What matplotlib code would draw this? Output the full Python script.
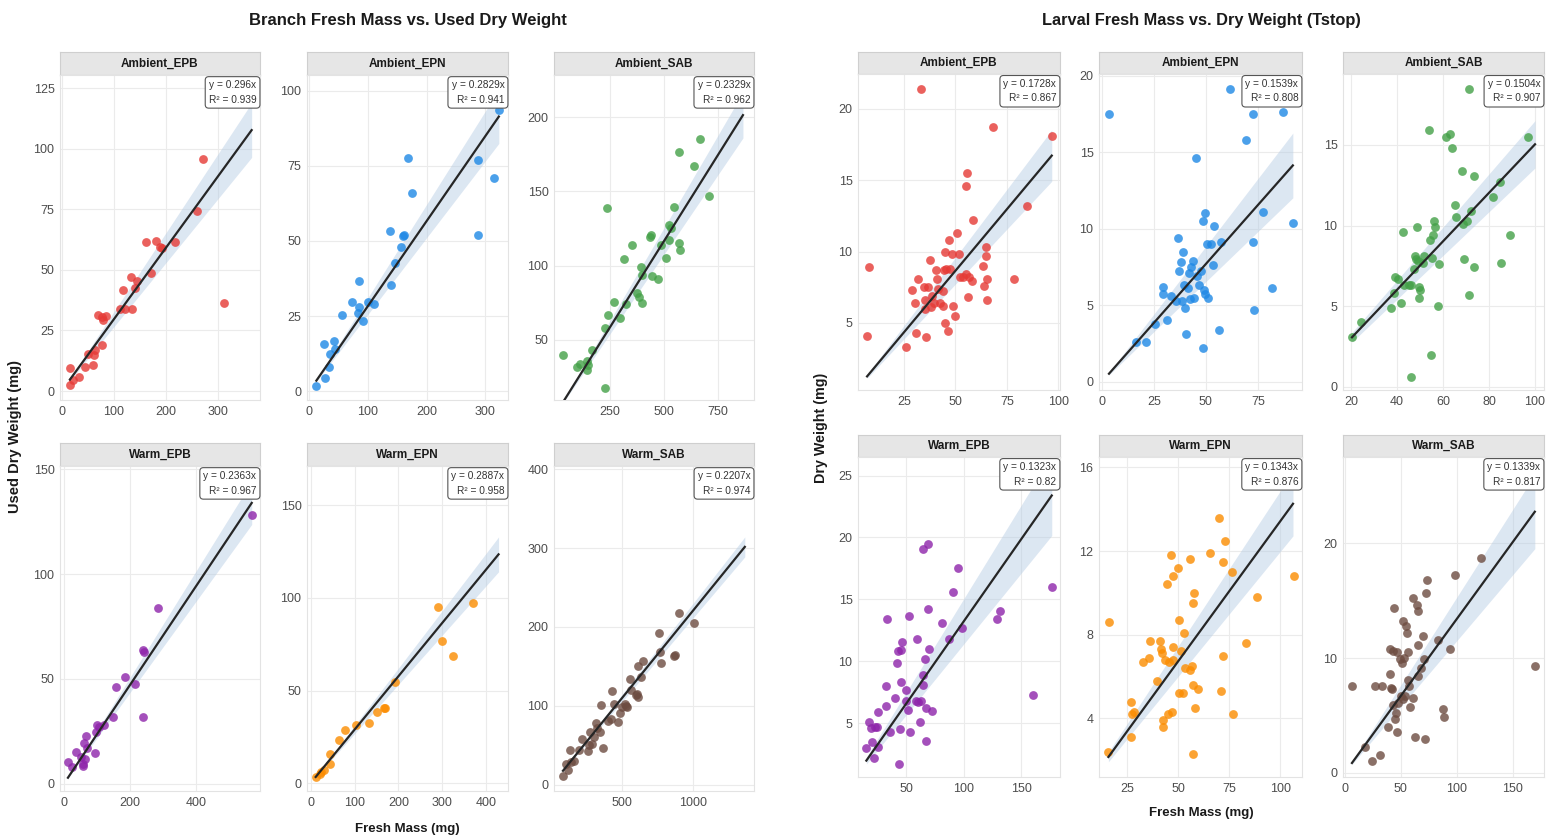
import numpy as np
import matplotlib.pyplot as plt

plt.rcParams['font.family'] = ['Liberation Sans', 'DejaVu Sans']

W, H = 1557, 838

facet_names = ['Ambient_EPB', 'Ambient_EPN', 'Ambient_SAB', 'Warm_EPB', 'Warm_EPN', 'Warm_SAB']
point_colors = ['#e53935', '#1e88e5', '#43a047', '#8e24aa', '#fb8c00', '#6d4c41']

# ---- Branch fresh mass vs used dry weight ----
br_amb_epb_x = [16, 17, 21, 33, 45, 51, 61, 63, 64, 70, 77, 79, 77, 85, 112, 118, 121, 134, 133, 140, 144,
                172, 161, 180, 188, 192, 217, 259, 271, 312]
br_amb_epb_y = [2.5, 9.4, 4.5, 6, 10, 15.5, 10.7, 15, 17, 31.4, 19, 29.3, 30.7, 31, 34, 41.7, 34, 34, 47, 42.4, 45.6,
                48.6, 61.7, 62, 59.6, 59, 61.4, 74.5, 95.8, 36.2]
br_amb_epn_x = [12.5, 28, 25.6, 34, 35, 42, 44, 56, 74, 85, 85, 84, 92, 101, 110, 138, 139, 147, 157, 160, 161,
                169, 176, 287, 288, 315, 323]
br_amb_epn_y = [1.9, 4.5, 15.6, 8.2, 12.3, 16.6, 14.2, 25.3, 29.8, 36.6, 28.1, 25.9, 23.3, 29.8, 28.9, 53.4, 35.3,
                42.8, 47.9, 51.5, 52.1, 77.5, 66, 76.9, 52.1, 70.9, 93.5]
br_amb_sab_x = [35, 101, 115, 145, 145, 150, 168, 230, 230, 242, 238, 270, 299, 315, 327, 352, 377, 384, 397, 393,
                400, 434, 442, 447, 473, 485, 511, 523, 526, 534, 545, 570, 568, 573, 640, 666, 709]
br_amb_sab_y = [40, 32, 34, 36, 30, 33, 43, 17.6, 57.7, 67, 138.8, 75.5, 64.6, 104.3, 74.4, 113.9, 81.9, 78.7, 75,
                99.4, 94, 119.6, 120.4, 93, 91.1, 114, 105, 127.7, 117.3, 125.6, 139.7, 176.4, 115, 110.3, 167,
                185.2, 147]
br_warm_epb_x = [12, 23, 37.5, 50, 56, 58, 61, 64, 68, 71, 94, 96, 101, 106, 122, 149, 157, 184, 215, 240, 243,
                 240, 284, 567]
br_warm_epb_y = [10.4, 8, 15.2, 12.5, 9.6, 8.5, 19.6, 11.6, 22.7, 16.8, 14.7, 24.7, 28.2, 27, 28.2, 31.9, 46.3, 51,
                 47.6, 63.8, 63, 31.9, 83.8, 128]
br_warm_epn_x = [11.4, 20.6, 24, 30.5, 45, 43.4, 65, 78, 104, 133, 150, 168, 170, 192, 290, 299, 324, 370]
br_warm_epn_y = [3.3, 5, 6, 6.9, 10.5, 15.9, 23.5, 28.6, 31.6, 32.5, 38.5, 40.7, 40.7, 54.8, 94.9, 77, 68.9, 97.2]
br_warm_sab_x = [80, 104, 116, 127, 139, 158, 193, 215, 257, 264, 274, 286, 297, 316, 323, 344, 351, 363, 399,
                 422, 429, 441, 470, 481, 500, 517, 528, 535, 552, 564, 594, 604, 611, 611, 634, 646, 757, 769,
                 776, 866, 870, 901, 1005]
br_warm_sab_y = [10.6, 26.7, 18.2, 44.5, 28.8, 30.1, 43.7, 57.3, 42.8, 50, 67, 52.2, 60.7, 77.6, 71.3, 66.2, 100.5,
                 47.1, 81, 82.7, 119.2, 102.2, 78.9, 90.4, 98, 102.2, 99.7, 98.8, 133.6, 120, 113.7, 114.5, 150.6,
                 111.6, 137, 157.4, 192.2, 167.6, 154, 163.7, 164.6, 217.6, 204.9]

branch_x = [br_amb_epb_x, br_amb_epn_x, br_amb_sab_x, br_warm_epb_x, br_warm_epn_x, br_warm_sab_x]
branch_y = [br_amb_epb_y, br_amb_epn_y, br_amb_sab_y, br_warm_epb_y, br_warm_epn_y, br_warm_sab_y]
branch_slopes = [0.296, 0.2829, 0.2329, 0.2363, 0.2887, 0.2207]
branch_r2 = [0.939, 0.941, 0.962, 0.967, 0.958, 0.974]
branch_line_end = [364, 323, 865, 567, 428, 1366]
branch_xlims = [(-3, 380), (-3.4, 338.6), (-7, 916), (-12, 592), (-8.4, 449.5), (16.5, 1431)]
branch_ylims = [(-3.7, 130.5), (-2.9, 105.2), (9.5, 228.5), (-3.5, 151.6), (-4.3, 171.3), (-8, 404)]
branch_xticks = [[0, 100, 200, 300], [0, 100, 200, 300], [250, 500, 750], [0, 200, 400],
                 [0, 100, 200, 300, 400], [500, 1000]]
branch_yticks = [[0, 25, 50, 75, 100, 125], [0, 25, 50, 75, 100], [50, 100, 150, 200], [0, 50, 100, 150],
                 [0, 50, 100, 150], [0, 100, 200, 300, 400]]

# ---- Larval fresh mass vs dry weight ----
lv_amb_epb_x = [7.2, 8.2, 26, 29.2, 30.3, 30.8, 32, 33.3, 34.9, 35.2, 35.2, 36, 36.8, 37.6, 38.1, 38.9, 39.6, 40.4,
                40.9, 41.7, 42.8, 43.8, 44.1, 44.4, 45, 45.7, 45, 46.5, 47, 47.4, 48.2, 48.7, 49.8, 50.6, 51.9,
                52.5, 53.8, 55, 55.5, 55.1, 56.3, 56.8, 57.9, 58.7, 63.6, 63.9, 64.8, 64.8, 65.5, 65.5, 68.4, 78.5,
                84.9, 96.8]
lv_amb_epb_y = [4.1, 8.9, 3.3, 7.3, 6.4, 4.3, 8.1, 21.4, 7.5, 6.6, 6, 4, 7.5, 9.4, 6.1, 6.9, 6.4, 8.7, 8.1, 7.4, 6.4,
                7.2, 6.2, 8.7, 10, 8.8, 5, 4.4, 10.8, 8.8, 9.8, 6.2, 5.5, 11.3, 9.8, 8.2, 8.2, 14.6, 15.5, 8.4, 6.8,
                8.2, 7.9, 12.2, 9, 7.6, 10.3, 9.7, 8.1, 6.6, 18.7, 8.1, 13.2, 18.1]
lv_amb_epn_x = [3.4, 16.5, 21, 25.3, 29.6, 29.3, 31.3, 33.3, 35.4, 36.5, 37.3, 38.1, 38.9, 38.6, 39.7, 40.1, 40.5,
                41.3, 41.8, 42.5, 42.9, 43.8, 44.1, 45.4, 45.8, 46.6, 47.8, 48.6, 48.6, 49, 49.4, 49.8, 50.6, 50.9,
                52.6, 53.7, 53.4, 56.3, 57.4, 61.7, 69.4, 72.6, 72.6, 73.1, 77.4, 81.9, 87, 92.1]
lv_amb_epn_y = [17.5, 2.6, 2.6, 3.8, 6.2, 5.7, 4, 5.6, 5.3, 9.4, 7.2, 7.8, 8.5, 5.3, 6.3, 4.8, 3.1, 6.1, 7.1, 5.4,
                7.5, 7.9, 5.5, 14.6, 6.9, 6.3, 7.2, 10.5, 2.2, 6, 5.7, 11, 9, 5.5, 9, 10.2, 7.6, 3.4, 9.1, 19.1,
                15.8, 9.1, 17.5, 4.7, 11.1, 6.1, 17.6, 10.4]
lv_amb_sab_x = [20.4, 24.5, 37.4, 38.5, 39.2, 40.4, 41.7, 42.6, 42.9, 45, 46, 47.2, 47.6, 48.4, 49, 49.5, 49.7, 50.1,
                48.7, 46, 51.5, 51.8, 53.7, 54.2, 54.7, 55.2, 55.6, 55.9, 56.3, 57.6, 58.1, 61.4, 63.1, 63.8, 65.3,
                65.7, 68.2, 69.2, 68.6, 70.4, 71.5, 71.5, 72.1, 73.5, 73.5, 81.6, 84.8, 85.1, 88.9, 97.1]
lv_amb_sab_y = [3.1, 4, 4.9, 5.8, 6.8, 6.7, 5.2, 9.6, 6.3, 6.3, 6.3, 7.3, 8.1, 7.9, 7.8, 6.2, 5.5, 6, 9.9, 0.6, 7.7,
                8.1, 15.9, 9.1, 2, 8, 9.4, 10.3, 9.9, 5, 7.6, 15.5, 15.7, 14.8, 11.3, 10.5, 13.4, 7.9, 10.1, 10.3,
                18.5, 5.7, 10.9, 13.1, 7.4, 11.8, 12.7, 7.7, 9.4, 15.5]
lv_warm_epb_x = [15, 17.3, 19.4, 20.3, 21.4, 22.3, 25.2, 25.2, 24.3, 31.9, 32.5, 33.4, 35.4, 39.8, 41.8, 42.7,
                 44.2, 43.6, 45.6, 46.5, 45.6, 49.4, 50, 51.5, 52.3, 53.5, 58.2, 59.3, 60.2, 61.7, 63.1, 64, 64,
                 64.6, 66, 67, 67, 68.9, 68.9, 69.8, 72, 80.9, 87.3, 90.8, 94.6, 98.1, 129.3, 131.6, 160.2, 176.8]
lv_warm_epb_y = [3, 5.1, 4.6, 3.5, 2.2, 4.7, 3.1, 5.9, 4.7, 6.4, 8, 13.4, 4.3, 7, 9.9, 10.8, 4.5, 1.7, 10.9, 11.6,
                 8.3, 7.7, 6.8, 6.1, 13.7, 4.3, 6.8, 11.8, 6.7, 5.1, 6.8, 19.1, 8.9, 8.1, 10.2, 6.2, 3.6, 19.5,
                 14.2, 11, 6, 13.1, 11.8, 15.6, 17.5, 12.7, 13.4, 14.1, 7.3, 16]
lv_warm_epn_x = [16, 16.3, 27, 27.3, 28.6, 27, 33, 35.6, 36.3, 39.5, 41.2, 41.7, 42.2, 42.8, 42.8, 43.8, 44.6, 44.9,
                 45.4, 46.6, 47.4, 47.4, 47.1, 47.7, 49.8, 50.3, 50.7, 51.5, 52.3, 53.1, 53.6, 55.9, 55.9, 56.9,
                 57.2, 57.2, 57.5, 58, 58.5, 59.6, 65.4, 69.9, 71.9, 72.2, 71.1, 73.2, 76.8, 76.3, 83.3, 88.6, 106.5]
lv_warm_epn_y = [2.4, 8.6, 4.8, 4.2, 4.3, 3.1, 6.7, 6.9, 7.7, 5.8, 7.7, 7.3, 7.1, 3.9, 3.6, 6.8, 10.4, 4.2, 6.7,
                 11.8, 7.4, 10.8, 4.3, 6.8, 11.2, 8.7, 5.2, 7.2, 5.2, 8.1, 6.4, 11.6, 6.3, 6.5, 9.5, 2.3, 5.6, 10,
                 4.5, 5.4, 11.9, 13.6, 11.5, 7, 5.3, 12.5, 4.2, 11, 7.6, 9.8, 10.8]
lv_warm_sab_x = [6.5, 17.8, 24.3, 27.2, 31.1, 33.1, 39, 40.5, 40.9, 41.4, 42, 42.9, 43.5, 44.1, 45, 45.9, 46.4, 47,
                 47.9, 49.4, 50.9, 50, 51.8, 52.4, 53, 53.8, 54.7, 55.9, 56.2, 56.8, 57.7, 58.3, 60.7, 61.2, 62.7,
                 64.8, 65.7, 65.7, 65.7, 68.6, 69.5, 70.7, 71.6, 72.5, 73.7, 83.4, 87.9, 88.8, 93.8, 98.2, 121.9,
                 169.8]
lv_warm_sab_y = [7.6, 2.3, 1.05, 7.6, 1.55, 7.6, 4, 8.6, 10.8, 7.4, 7.3, 5.9, 10.6, 14.4, 4.7, 5.2, 3.6, 10.5, 6.1,
                 9.9, 9.6, 6.7, 13.2, 6.4, 10, 6.7, 12.8, 12.2, 10.5, 8.1, 7.6, 5.7, 15.2, 6.5, 3.1, 14.6, 14.1, 11.1,
                 8.4, 9.1, 11.9, 9.9, 3, 15.7, 16.8, 11.6, 5.6, 4.9, 10.8, 17.2, 18.7, 9.3]

larval_x = [lv_amb_epb_x, lv_amb_epn_x, lv_amb_sab_x, lv_warm_epb_x, lv_warm_epn_x, lv_warm_sab_x]
larval_y = [lv_amb_epb_y, lv_amb_epn_y, lv_amb_sab_y, lv_warm_epb_y, lv_warm_epn_y, lv_warm_sab_y]
larval_slopes = [0.1728, 0.1539, 0.1504, 0.1323, 0.1343, 0.1339]
larval_r2 = [0.867, 0.808, 0.907, 0.82, 0.876, 0.817]
larval_line_end = [96.8, 91.8, 100, 176.8, 106.2, 169.8]
larval_xlims = [(2.8, 100.8), (-1.4, 96.2), (16.5, 103.9), (7.7, 184), (11.4, 110.6), (-1.5, 178)]
larval_ylims = [(0.29, 22.45), (-0.54, 20.1), (-0.2, 19.4), (0.66, 26.5), (1.19, 16.5), (-0.35, 27.5)]
larval_xticks = [[25, 50, 75, 100], [0, 25, 50, 75], [20, 40, 60, 80, 100], [50, 100, 150],
                 [25, 50, 75, 100], [0, 50, 100, 150]]
larval_yticks = [[5, 10, 15, 20], [0, 5, 10, 15, 20], [0, 5, 10, 15], [5, 10, 15, 20, 25],
                 [4, 8, 12, 16], [0, 10, 20]]


def add_box(fig, x0, y0, x1, y1):
    # pixel box (top-left origin) -> axes
    return fig.add_axes([x0 / W, 1 - y1 / H, (x1 - x0) / W, (y1 - y0) / H])


def draw_facet(fig, box, strip_h, name, color, x, y, slope, r2, line_end, xlim, ylim, xticks, yticks):
    x0, y0, x1, y1 = box
    strip = add_box(fig, x0, y0, x1, y0 + strip_h)
    strip.set_facecolor('#e6e6e6')
    strip.set_xticks([])
    strip.set_yticks([])
    for s in strip.spines.values():
        s.set_color('#cfcfcf')
        s.set_linewidth(0.8)
    strip.text(0.5, 0.5, name, ha='center', va='center', fontsize=8.5, fontweight='bold', color='#1a1a1a')

    ax = add_box(fig, x0, y0 + strip_h, x1, y1)
    x = np.array(x, dtype=float)
    y = np.array(y, dtype=float)

    # fit through origin + 95% band
    res = y - slope * x
    se = np.sqrt(np.sum(res ** 2) / (len(x) - 1) / np.sum(x ** 2))
    xs = np.linspace(x.min(), line_end, 100)
    ax.fill_between(xs, slope * xs - 2.0 * se * xs, slope * xs + 2.0 * se * xs,
                    color='#b3cae3', alpha=0.45, lw=0, zorder=2)
    ax.scatter(x, y, s=40, color=color, alpha=0.8, lw=0, zorder=3)
    ax.plot(xs, slope * xs, color='#262626', lw=1.6, zorder=4)

    ax.set_xlim(*xlim)
    ax.set_ylim(*ylim)
    ax.set_xticks(xticks)
    ax.set_yticks(yticks)
    ax.grid(True, color='#ebebeb', lw=0.8, zorder=0)
    ax.set_axisbelow(True)
    ax.tick_params(length=0, labelsize=9, labelcolor='#4d4d4d', pad=4)
    for s in ax.spines.values():
        s.set_color('#e3e3e3')
        s.set_linewidth(0.8)

    ax.text(0.982, 0.984, f'y = {slope}x\nR² = {r2}', transform=ax.transAxes, ha='right', va='top',
            multialignment='right', fontsize=7.3, linespacing=1.55, color='#333333', zorder=6,
            bbox=dict(boxstyle='round,pad=0.35', fc='white', ec='#555555', lw=0.8))
    return ax


fig = plt.figure(figsize=(W / 100, H / 100), dpi=100)

# left block: Branch
branch_cols = [(60, 260), (307, 508), (554, 754)]
branch_rows = [(52, 400), (443, 791)]
for i in range(6):
    cx = branch_cols[i % 3]
    ry = branch_rows[i // 3]
    draw_facet(fig, (cx[0], ry[0], cx[1], ry[1]), 23, facet_names[i], point_colors[i],
               branch_x[i], branch_y[i], branch_slopes[i], branch_r2[i], branch_line_end[i],
               branch_xlims[i], branch_ylims[i], branch_xticks[i], branch_yticks[i])

# right block: Larval
larval_cols = [(858, 1060), (1099, 1302), (1343, 1544)]
larval_rows = [(52, 390), (435, 777)]
for i in range(6):
    cx = larval_cols[i % 3]
    ry = larval_rows[i // 3]
    draw_facet(fig, (cx[0], ry[0], cx[1], ry[1]), 22, facet_names[i], point_colors[i],
               larval_x[i], larval_y[i], larval_slopes[i], larval_r2[i], larval_line_end[i],
               larval_xlims[i], larval_ylims[i], larval_xticks[i], larval_yticks[i])

fig.text(408 / W, 1 - 21 / H, 'Branch Fresh Mass vs. Used Dry Weight', ha='center', va='center',
         fontsize=12, fontweight='bold', color='#1a1a1a')
fig.text(1201 / W, 1 - 21 / H, 'Larval Fresh Mass vs. Dry Weight (Tstop)', ha='center', va='center',
         fontsize=11.8, fontweight='bold', color='#1a1a1a')
fig.text(15 / W, 1 - 436 / H, 'Used Dry Weight (mg)', rotation=90, ha='center', va='center',
         fontsize=10.5, fontweight='bold', color='#1a1a1a')
fig.text(407 / W, 1 - 829 / H, 'Fresh Mass (mg)', ha='center', va='center',
         fontsize=9.5, fontweight='bold', color='#1a1a1a')
fig.text(821 / W, 1 - 428 / H, 'Dry Weight (mg)', rotation=90, ha='center', va='center',
         fontsize=10.3, fontweight='bold', color='#1a1a1a')
fig.text(1201 / W, 1 - 813 / H, 'Fresh Mass (mg)', ha='center', va='center',
         fontsize=9.5, fontweight='bold', color='#1a1a1a')

fig.savefig('out.png', dpi=100, facecolor='white')
